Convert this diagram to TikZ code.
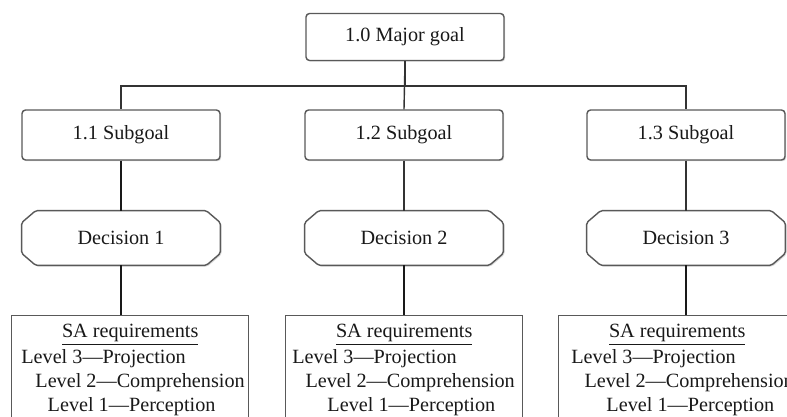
\documentclass[tikz,border=0pt]{standalone}
\usepackage{fontspec}
\setmainfont{Liberation Serif}
\usetikzlibrary{shadows,positioning}
\pgfdeclarelayer{background}
\pgfsetlayers{background,main}

\begin{document}
\begin{tikzpicture}[x=0.02cm,y=-0.02cm]
	\tikzset{
		every node/.style={font=\fontsize{11.5}{13.6}\selectfont, text=black!90},
		shade/.style={drop shadow={opacity=0.3, shadow xshift=0.7pt, shadow yshift=-0.7pt}},
		goalbox/.style={draw=black!65, line width=0.8pt, rounded corners=2pt, fill=white, shade,
			minimum width=3.96cm, minimum height=1cm},
		decbox/.style={minimum width=3.96cm, minimum height=1.08cm},
		decline/.style={draw=black!65, line width=0.8pt, fill=white, shade, rounded corners=1pt},
		sabox/.style={draw=black!65, line width=0.8pt, fill=white, minimum width=4.74cm, minimum height=3cm, anchor=north west},
		salines/.style={anchor=north west, align=left, inner sep=0pt},
		link/.style={draw=black!80, line width=0.8pt},
		heavy/.style={draw=black!90, line width=1.3pt}
	}
	\useasboundingbox (0,0) rectangle (787,416);
	\clip (0,0) rectangle (787,416);

	% goal and subgoals
	\node [goalbox, minimum height=0.94cm] (goal) at (405,37) {1.0 Major goal};
	\node [goalbox] (sub1) at (121,135) {1.1 Subgoal};
	\node [goalbox] (sub2) at (404,135) {1.2 Subgoal};
	\node [goalbox] (sub3) at (686,135) {1.3 Subgoal};

	% decisions
	\node [decbox] (dec1) at (121,238) {Decision 1};
	\node [decbox] (dec2) at (404,238) {Decision 2};
	\node [decbox] (dec3) at (686,238) {Decision 3};
	\begin{pgfonlayer}{background}
		\foreach \d in {dec1,dec2,dec3}
			\draw [decline] ([xshift=0.28cm]\d.north west) -- ([xshift=-0.28cm]\d.north east)
				-- ([yshift=-0.24cm]\d.north east) -- ([yshift=0.24cm]\d.south east)
				-- ([xshift=-0.28cm]\d.south east) -- ([xshift=0.28cm]\d.south west)
				-- ([yshift=0.24cm]\d.south west) -- ([yshift=-0.24cm]\d.north west) -- cycle;
	\end{pgfonlayer}

	% SA requirement boxes
	\node [sabox] (sa1) at (11,315) {};
	\node [sabox] (sa2) at (285,315) {};
	\node [sabox] (sa3) at (558,315) {};
	\node [below=0.18cm of sa1.north, inner sep=0pt] (sa1h) {\underline{SA requirements}};
	\node [below=0.18cm of sa2.north, inner sep=0pt] (sa2h) {\underline{SA requirements}};
	\node [below=0.18cm of sa3.north, inner sep=0pt] (sa3h) {\underline{SA requirements}};
	\node [salines] (sa1l) at (21,349) {Level 3---Projection\\ \hspace*{8pt}Level 2---Comprehension\\ \hspace*{15pt}Level 1---Perception};
	\node [salines] (sa2l) at (292,349) {Level 3---Projection\\ \hspace*{7.5pt}Level 2---Comprehension\\ \hspace*{20pt}Level 1---Perception};
	\node [salines] (sa3l) at (571,349) {Level 3---Projection\\ \hspace*{7.5pt}Level 2---Comprehension\\ \hspace*{20pt}Level 1---Perception};

	% connectors
	\draw [link] (goal.south) -- (sub2.north);
	\draw [link] (goal.south) -- ++(0,25) -| (sub1.north);
	\draw [link] (goal.south) -- ++(0,25) -| (sub3.north);
	\draw [heavy] (sub1.south) -- (dec1.north);
	\draw [link] (sub2.south) -- (dec2.north);
	\draw [link] (sub3.south) -- (dec3.north);
	\draw [heavy] (dec1.south) -- (sa1.north -| dec1.south);
	\draw [heavy] (dec2.south) -- (sa2.north -| dec2.south);
	\draw [heavy] (dec3.south) -- (sa3.north -| dec3.south);
\end{tikzpicture}
\end{document}
